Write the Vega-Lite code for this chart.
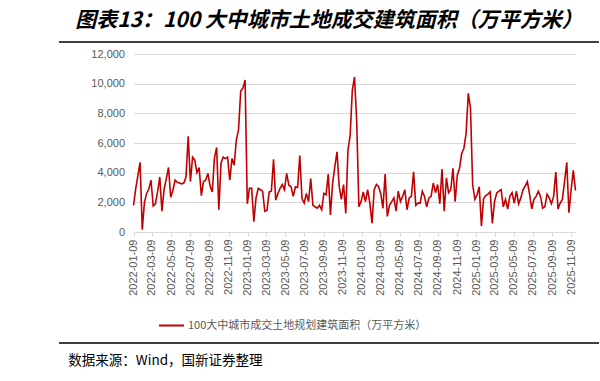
{
 "$schema": "https://vega.github.io/schema/vega-lite/v6.json",
 "padding": {"left": 58, "top": 10, "right": 0, "bottom": 0},
 "background": "white",
 "config": {"view": {"stroke": null}, "font": "Liberation Sans"},
 "spacing": 5,
 "vconcat": [
  {
   "width": 540, "height": 1,
   "title": {"text": "图表13：100 大中城市土地成交建筑面积（万平方米）", "font": "Noto Sans CJK SC", "fontSize": 21, "fontWeight": "bold", "fontStyle": "italic", "color": "#000000", "anchor": "middle", "offset": -11, "baseline": "bottom"},
   "data": {"values": [{"part": "title underline"}]},
   "mark": {"type": "rule", "color": "#000000", "strokeWidth": 1.3},
   "encoding": {"y": {"datum": 0, "type": "quantitative", "scale": {"domain": [0, 1]}, "axis": null}}
  },
  {
   "spacing": 46,
   "vconcat": [
    {
     "width": 540, "height": 178,
     "data": {"values": [
{"date":"2022-01-09","value":1800},{"date":"2022-01-16","value":2900},{"date":"2022-01-23","value":3800},{"date":"2022-01-30","value":4700},
{"date":"2022-02-06","value":150},{"date":"2022-02-13","value":2000},{"date":"2022-02-20","value":2600},{"date":"2022-02-27","value":2900},
{"date":"2022-03-06","value":3500},{"date":"2022-03-13","value":1750},{"date":"2022-03-20","value":1900},{"date":"2022-03-27","value":2700},
{"date":"2022-04-03","value":3700},{"date":"2022-04-10","value":1400},{"date":"2022-04-17","value":2900},{"date":"2022-04-24","value":3600},
{"date":"2022-05-01","value":4350},{"date":"2022-05-08","value":2350},{"date":"2022-05-15","value":2800},{"date":"2022-05-22","value":3500},{"date":"2022-05-29","value":3350},
{"date":"2022-06-05","value":3300},{"date":"2022-06-12","value":3250},{"date":"2022-06-19","value":3300},{"date":"2022-06-26","value":3700},
{"date":"2022-07-03","value":6450},{"date":"2022-07-10","value":3400},{"date":"2022-07-17","value":5050},{"date":"2022-07-24","value":4850},{"date":"2022-07-31","value":4000},
{"date":"2022-08-07","value":4350},{"date":"2022-08-14","value":2450},{"date":"2022-08-21","value":3400},{"date":"2022-08-28","value":3500},
{"date":"2022-09-04","value":3950},{"date":"2022-09-11","value":3100},{"date":"2022-09-18","value":2700},{"date":"2022-09-25","value":5000},
{"date":"2022-10-02","value":5700},{"date":"2022-10-09","value":1500},{"date":"2022-10-16","value":4650},{"date":"2022-10-23","value":5050},{"date":"2022-10-30","value":4950},
{"date":"2022-11-06","value":5050},{"date":"2022-11-13","value":3500},{"date":"2022-11-20","value":4950},{"date":"2022-11-27","value":4500},
{"date":"2022-12-04","value":6200},{"date":"2022-12-11","value":6900},{"date":"2022-12-18","value":9500},{"date":"2022-12-25","value":9700},
{"date":"2023-01-01","value":10250},{"date":"2023-01-08","value":1900},{"date":"2023-01-15","value":2950},{"date":"2023-01-22","value":2950},{"date":"2023-01-29","value":700},
{"date":"2023-02-05","value":2300},{"date":"2023-02-12","value":2950},{"date":"2023-02-19","value":2850},{"date":"2023-02-26","value":2750},
{"date":"2023-03-05","value":1400},{"date":"2023-03-12","value":1450},{"date":"2023-03-19","value":2700},{"date":"2023-03-26","value":2750},
{"date":"2023-04-02","value":4900},{"date":"2023-04-09","value":2150},{"date":"2023-04-16","value":2600},{"date":"2023-04-23","value":2950},{"date":"2023-04-30","value":3200},
{"date":"2023-05-07","value":2850},{"date":"2023-05-14","value":3950},{"date":"2023-05-21","value":3150},{"date":"2023-05-28","value":3050},
{"date":"2023-06-04","value":2400},{"date":"2023-06-11","value":3050},{"date":"2023-06-18","value":3000},{"date":"2023-06-25","value":5150},
{"date":"2023-07-02","value":2250},{"date":"2023-07-09","value":1950},{"date":"2023-07-16","value":2600},{"date":"2023-07-23","value":2050},{"date":"2023-07-30","value":3600},
{"date":"2023-08-06","value":1800},{"date":"2023-08-13","value":1700},{"date":"2023-08-20","value":1600},{"date":"2023-08-27","value":1800},
{"date":"2023-09-03","value":1500},{"date":"2023-09-10","value":2600},{"date":"2023-09-17","value":2500},{"date":"2023-09-24","value":3900},
{"date":"2023-10-01","value":1150},{"date":"2023-10-08","value":3300},{"date":"2023-10-15","value":4400},{"date":"2023-10-22","value":5400},{"date":"2023-10-29","value":3100},
{"date":"2023-11-05","value":2200},{"date":"2023-11-12","value":3200},{"date":"2023-11-19","value":1250},{"date":"2023-11-26","value":5500},
{"date":"2023-12-03","value":6500},{"date":"2023-12-10","value":9550},{"date":"2023-12-17","value":10450},{"date":"2023-12-24","value":7500},{"date":"2023-12-31","value":1700},
{"date":"2024-01-07","value":2050},{"date":"2024-01-14","value":2700},{"date":"2024-01-21","value":2050},{"date":"2024-01-28","value":2850},
{"date":"2024-02-04","value":1950},{"date":"2024-02-11","value":600},{"date":"2024-02-18","value":2850},{"date":"2024-02-25","value":3200},
{"date":"2024-03-03","value":3050},{"date":"2024-03-10","value":2600},{"date":"2024-03-17","value":1600},{"date":"2024-03-24","value":3900},{"date":"2024-03-31","value":1050},
{"date":"2024-04-07","value":1800},{"date":"2024-04-14","value":2050},{"date":"2024-04-21","value":2300},{"date":"2024-04-28","value":1400},
{"date":"2024-05-05","value":2750},{"date":"2024-05-12","value":2050},{"date":"2024-05-19","value":2400},{"date":"2024-05-26","value":2850},
{"date":"2024-06-02","value":1500},{"date":"2024-06-09","value":2300},{"date":"2024-06-16","value":2400},{"date":"2024-06-23","value":4050},{"date":"2024-06-30","value":1800},
{"date":"2024-07-07","value":1950},{"date":"2024-07-14","value":1950},{"date":"2024-07-21","value":2750},{"date":"2024-07-28","value":2400},
{"date":"2024-08-04","value":1700},{"date":"2024-08-11","value":2300},{"date":"2024-08-18","value":2400},{"date":"2024-08-25","value":3300},
{"date":"2024-09-01","value":2650},{"date":"2024-09-08","value":3200},{"date":"2024-09-15","value":1900},{"date":"2024-09-22","value":4250},{"date":"2024-09-29","value":1400},
{"date":"2024-10-06","value":3650},{"date":"2024-10-13","value":2650},{"date":"2024-10-20","value":2850},{"date":"2024-10-27","value":4300},
{"date":"2024-11-03","value":2050},{"date":"2024-11-10","value":3850},{"date":"2024-11-17","value":4300},{"date":"2024-11-24","value":5300},
{"date":"2024-12-01","value":5650},{"date":"2024-12-08","value":6650},{"date":"2024-12-15","value":9350},{"date":"2024-12-22","value":8350},{"date":"2024-12-29","value":3200},
{"date":"2025-01-05","value":2200},{"date":"2025-01-12","value":2500},{"date":"2025-01-19","value":3050},{"date":"2025-01-26","value":400},
{"date":"2025-02-02","value":2250},{"date":"2025-02-09","value":2450},{"date":"2025-02-16","value":2550},{"date":"2025-02-23","value":2700},
{"date":"2025-03-02","value":580},{"date":"2025-03-09","value":2050},{"date":"2025-03-16","value":2630},{"date":"2025-03-23","value":2750},{"date":"2025-03-30","value":2850},
{"date":"2025-04-06","value":1700},{"date":"2025-04-13","value":2200},{"date":"2025-04-20","value":1550},{"date":"2025-04-27","value":2400},
{"date":"2025-05-04","value":2650},{"date":"2025-05-11","value":1950},{"date":"2025-05-18","value":2750},{"date":"2025-05-25","value":1900},
{"date":"2025-06-01","value":2300},{"date":"2025-06-08","value":2850},{"date":"2025-06-15","value":3100},{"date":"2025-06-22","value":3400},{"date":"2025-06-29","value":2550},
{"date":"2025-07-06","value":1550},{"date":"2025-07-13","value":2200},{"date":"2025-07-20","value":2400},{"date":"2025-07-27","value":2750},
{"date":"2025-08-03","value":2400},{"date":"2025-08-10","value":1600},{"date":"2025-08-17","value":1700},{"date":"2025-08-24","value":2550},{"date":"2025-08-31","value":2300},
{"date":"2025-09-07","value":1900},{"date":"2025-09-14","value":2400},{"date":"2025-09-21","value":4050},{"date":"2025-09-28","value":1550},
{"date":"2025-10-05","value":1950},{"date":"2025-10-12","value":2200},{"date":"2025-10-19","value":3400},{"date":"2025-10-26","value":4700},
{"date":"2025-11-02","value":1300},{"date":"2025-11-09","value":2850},{"date":"2025-11-16","value":4150},{"date":"2025-11-23","value":2800}
     ]},
     "mark": {"type": "line", "strokeWidth": 1.6},
     "encoding": {
      "x": {"field": "date", "type": "temporal", "scale": {"type": "utc", "nice": false, "range": [74.5, 516.5]},
       "axis": {"title": null, "grid": false, "format": "%Y-%m-%d", "labelAngle": 270, "labelAlign": "right", "labelBaseline": "middle",
        "values": [{"year":2022,"month":1,"date":9,"utc":true},{"year":2022,"month":3,"date":9,"utc":true},{"year":2022,"month":5,"date":9,"utc":true},{"year":2022,"month":7,"date":9,"utc":true},{"year":2022,"month":9,"date":9,"utc":true},{"year":2022,"month":11,"date":9,"utc":true},
                   {"year":2023,"month":1,"date":9,"utc":true},{"year":2023,"month":3,"date":9,"utc":true},{"year":2023,"month":5,"date":9,"utc":true},{"year":2023,"month":7,"date":9,"utc":true},{"year":2023,"month":9,"date":9,"utc":true},{"year":2023,"month":11,"date":9,"utc":true},
                   {"year":2024,"month":1,"date":9,"utc":true},{"year":2024,"month":3,"date":9,"utc":true},{"year":2024,"month":5,"date":9,"utc":true},{"year":2024,"month":7,"date":9,"utc":true},{"year":2024,"month":9,"date":9,"utc":true},{"year":2024,"month":11,"date":9,"utc":true},
                   {"year":2025,"month":1,"date":9,"utc":true},{"year":2025,"month":3,"date":9,"utc":true},{"year":2025,"month":5,"date":9,"utc":true},{"year":2025,"month":7,"date":9,"utc":true},{"year":2025,"month":9,"date":9,"utc":true},{"year":2025,"month":11,"date":9,"utc":true}],
        "labelOverlap": false, "labelFlush": false, "labelFont": "Liberation Sans", "labelFontSize": 11, "labelColor": "#595959", "labelPadding": 3,
        "ticks": true, "tickSize": 4, "tickColor": "#d9d9d9", "domainColor": "#d9d9d9", "domainWidth": 1}},
      "y": {"field": "value", "type": "quantitative", "scale": {"domain": [0, 12000], "nice": false},
       "axis": {"title": null, "values": [0, 2000, 4000, 6000, 8000, 10000, 12000], "format": ",d", "grid": true, "gridColor": "#d9d9d9", "domain": false, "ticks": false,
        "offset": -74.5, "minExtent": 0,
        "labelFont": "Liberation Sans", "labelFontSize": 11, "labelColor": "#595959", "labelPadding": 9}},
      "color": {"datum": "100大中城市成交土地规划建筑面积（万平方米）", "type": "nominal", "scale": {"range": ["#C00000"]},
       "legend": {"title": null, "orient": "none", "legendX": 99, "legendY": 271, "direction": "horizontal", "padding": 0, "labelLimit": 0,
        "symbolType": "stroke", "symbolSize": 625, "symbolStrokeWidth": 2, "labelFont": "Noto Sans CJK SC", "labelFontSize": 11, "labelColor": "#595959", "labelOffset": 3}}
     }
    },
    {
     "width": 540, "height": 1,
     "title": {"text": "数据来源：Wind，国新证券整理", "orient": "bottom", "anchor": "start", "dx": 10, "offset": 10, "font": "Noto Sans CJK SC", "fontSize": 13.5, "fontWeight": "normal", "color": "#000000", "baseline": "top"},
     "data": {"values": [{"part": "source rule"}]},
     "mark": {"type": "rule", "color": "#000000", "strokeWidth": 1.3},
     "encoding": {"y": {"datum": 0, "type": "quantitative", "scale": {"domain": [0, 1]}, "axis": null}}
    }
   ]
  }
 ]
}
